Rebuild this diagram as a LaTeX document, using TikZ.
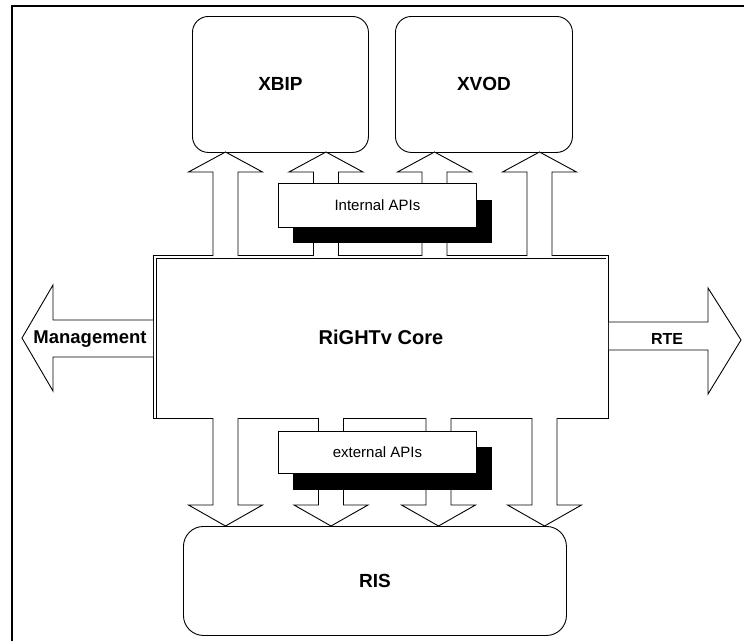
\documentclass[tikz,border=0pt]{standalone}
\usepackage{fontspec}
\setmainfont{Liberation Sans}
\newcommand\blkuparr[1]{%
  \draw[blk] (#1-12.5,256) -- (#1-12.5,172) -- (#1-37,172) -- (#1,152) -- (#1+37,172) -- (#1+12.5,172) -- (#1+12.5,256);}
\newcommand\blkdnarr[1]{%
  \draw[blk] (#1-12.5,418) -- (#1-12.5,505) -- (#1-37,505) -- (#1,526) -- (#1+37,505) -- (#1+12.5,505) -- (#1+12.5,418);}
\begin{document}
\begin{tikzpicture}[x=1pt,y=-1pt,
  line width=0.9pt,
  rbox/.style={draw, rounded corners=16pt, fill=white},
  apibox/.style={draw, fill=white, font=\fontsize{15}{17}\selectfont},
  shadowbox/.style={fill=black},
  blk/.style={draw, fill=white, line join=miter},
  lbl/.style={font=\fontsize{19}{22}\selectfont\bfseries}]
\useasboundingbox (0,0) rectangle (744,643);
% frame (top and left only)
\draw[line width=2.2pt] (12,641) -- (12,6) -- (744,6);
% boxes
\node[rbox, minimum width=176pt, minimum height=136pt, anchor=north west, lbl] (xbip) at (192,16) {XBIP};
\node[rbox, minimum width=177pt, minimum height=136pt, anchor=north west, lbl] (xvod) at (395,16) {XVOD};
\node[rbox, rounded corners=20pt, minimum width=383pt, minimum height=109pt, anchor=north west, lbl] (ris) at (183,526) {RIS};
\node[draw, fill=white, minimum width=455pt, minimum height=163pt, anchor=north west, lbl, font=\fontsize{20}{24}\selectfont\bfseries] (core) at (153,255) {RiGHTv Core};
\draw ([xshift=3pt,yshift=1pt]core.south west) |- ([xshift=-3pt,yshift=-3pt]core.north east);
% block arrows
\blkuparr{225.5}
\blkuparr{326}
\blkuparr{434.5}
\blkuparr{539.5}
\blkdnarr{225.5}
\blkdnarr{331}
\blkdnarr{438.5}
\blkdnarr{544.5}
% API boxes with shadows
\fill[shadowbox] (293,200) rectangle (492,243);
\node[apibox, minimum width=198pt, minimum height=44pt, anchor=north west] (iapi) at (278,183) {Internal APIs};
\fill[shadowbox] (293,447) rectangle (492,490);
\node[apibox, minimum width=198pt, minimum height=42pt, anchor=north west] (eapi) at (278,431) {external APIs};
% side arrows
\draw[blk] (core.west |- 0,320) -- (53,320) -- (53,285) -- (22,338) -- (53,391) -- (53,357) -- (core.west |- 0,357);
\node[lbl, font=\fontsize{18.5}{22}\selectfont\bfseries] (mgmt) at (90,339) {Management};
\draw[blk] (core.east |- 0,322) -- (708,322) -- (708,288) -- (741,340) -- (708,394) -- (708,350) -- (core.east |- 0,350);
\node[lbl, font=\fontsize{16}{20}\selectfont\bfseries] (rte) at (667,339) {RTE};
\end{tikzpicture}
\end{document}
